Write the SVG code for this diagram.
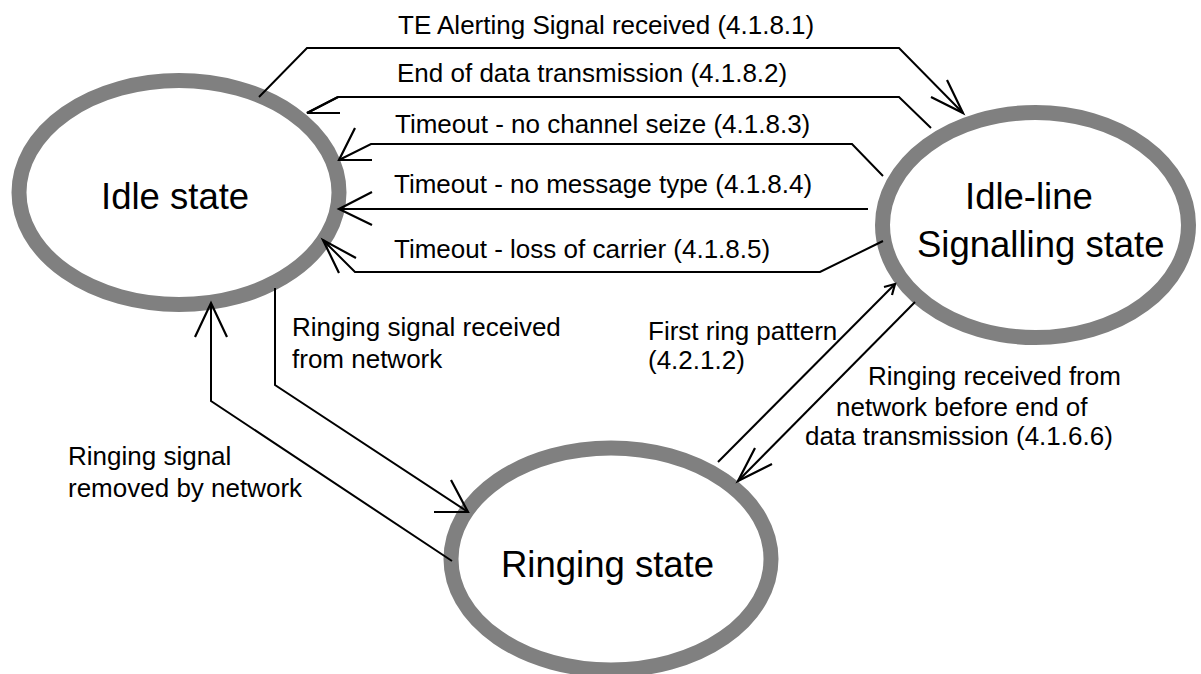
<svg xmlns="http://www.w3.org/2000/svg" width="1201" height="674" viewBox="0 0 1201 674">
  <style>
    .state { fill: #ffffff; stroke: #808080; stroke-width: 15; }
    .stxt { font-family: "Liberation Sans", Arial, sans-serif; font-size: 36.5px; fill: #000000; }
    .lbl { font-family: "Liberation Sans", Arial, sans-serif; font-size: 26px; fill: #000000; }
    .conn { fill: none; stroke: #000000; stroke-width: 2; stroke-linejoin: miter; }
    .head { fill: none; stroke: #000000; stroke-width: 2.2; }
  </style>
  <rect x="0" y="0" width="1201" height="674" fill="#ffffff"/>

  <g id="idle">
    <ellipse class="state" cx="179" cy="192.5" rx="160" ry="112"/>
    <text class="stxt" x="101" y="209">Idle state</text>
  </g>

  <g id="idle-line-signalling">
    <ellipse class="state" cx="1035.5" cy="225" rx="153" ry="112.5"/>
    <text class="stxt" x="965" y="209">Idle-line</text>
    <text class="stxt" x="917" y="257">Signalling state</text>
  </g>

  <g id="ringing">
    <ellipse class="state" cx="611" cy="559" rx="160" ry="111"/>
    <text class="stxt" x="501" y="577">Ringing state</text>
  </g>

  <g id="connectors">
    <polyline class="conn" points="259,97 307,48 899,48 963,113"/>
    <polyline class="head" points="931,97 963,113 947,80"/>

    <polyline class="conn" points="931,128 899,97 338,97 307,113"/>
    <polyline class="head" points="338,97 307,113 340,113"/>

    <polyline class="conn" points="883,176 852,144 371,144 339,160"/>
    <polyline class="head" points="355,128 339,160 372,160"/>

    <polyline class="conn" points="868,209 339,209"/>
    <polyline class="head" points="372,192 339,209 372,225"/>

    <polyline class="conn" points="883,241 820,272 355,272 323,240"/>
    <polyline class="head" points="356,258 323,240 339,273"/>

    <polyline class="conn" points="275,288 275,385 468,512"/>
    <polyline class="head" points="434,512 468,512 451,480"/>

    <polyline class="conn" points="452,561 211,401 211,303"/>
    <polyline class="head" points="195,337 211,303 227,337"/>

    <polyline class="conn" points="718,462 895,284"/>
    <polyline class="head" points="884,287 895,284 892,295"/>

    <polyline class="conn" points="915,302 738,481"/>
    <polyline class="head" points="755,448 738,481 772,464"/>
  </g>

  <g id="labels">
    <text class="lbl" x="398" y="34">TE Alerting Signal received (4.1.8.1)</text>
    <text class="lbl" x="397" y="82">End of data transmission (4.1.8.2)</text>
    <text class="lbl" x="395" y="133">Timeout - no channel seize (4.1.8.3)</text>
    <text class="lbl" x="394" y="193">Timeout - no message type (4.1.8.4)</text>
    <text class="lbl" x="394" y="258">Timeout - loss of carrier (4.1.8.5)</text>
    <text class="lbl" x="292" y="336">Ringing signal received</text>
    <text class="lbl" x="292" y="368">from network</text>
    <text class="lbl" x="68" y="465">Ringing signal</text>
    <text class="lbl" x="68" y="497">removed by network</text>
    <text class="lbl" x="648" y="340">First ring pattern</text>
    <text class="lbl" x="648" y="369">(4.2.1.2)</text>
    <text class="lbl" x="868" y="385">Ringing received from</text>
    <text class="lbl" x="836" y="416">network before end of</text>
    <text class="lbl" x="805" y="445">data transmission (4.1.6.6)</text>
  </g>
</svg>
